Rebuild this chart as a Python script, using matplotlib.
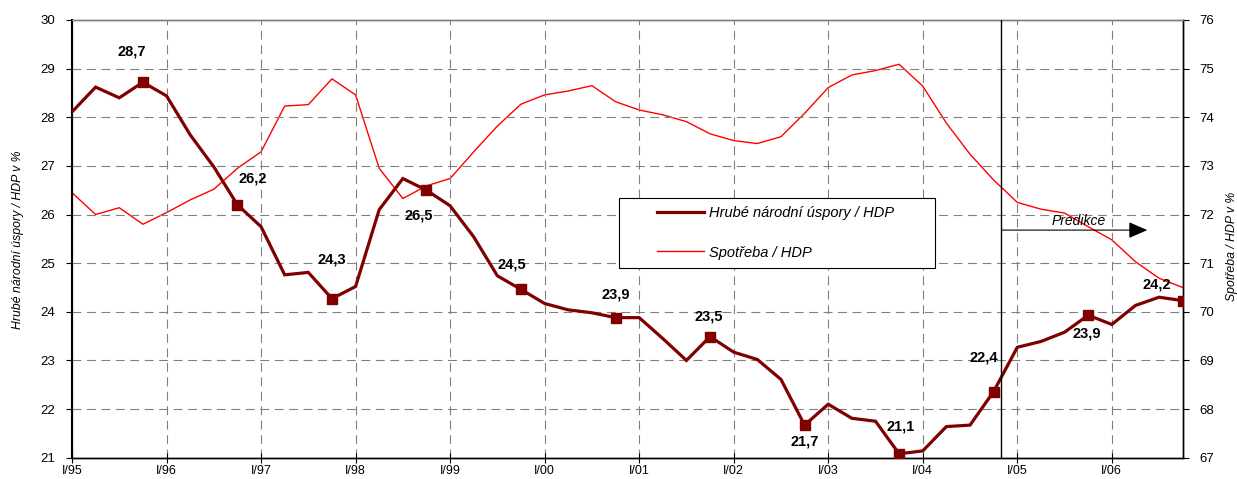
import matplotlib
matplotlib.use("Agg")
import matplotlib.pyplot as plt
from matplotlib.patches import Rectangle
from matplotlib.lines import Line2D
import numpy as np

plt.rcParams['font.family'] = ['Liberation Sans', 'DejaVu Sans']

# ---- data ----
years = ["95", "96", "97", "98", "99", "00", "01", "02", "03", "04", "05", "06"]
tick_labels = ["I/" + y for y in years]

savings = [28.11, 28.62, 28.40, 28.72, 28.44, 27.64, 26.98, 26.20,
           25.75, 24.76, 24.81, 24.27, 24.52, 26.10, 26.74, 26.50,
           26.18, 25.54, 24.74, 24.46, 24.17, 24.04, 23.98, 23.88,
           23.88, 23.45, 23.00, 23.49, 23.17, 23.02, 22.61, 21.67,
           22.10, 21.81, 21.75, 21.08, 21.14, 21.64, 21.67, 22.36,
           23.27, 23.39, 23.58, 23.93, 23.74, 24.13, 24.30, 24.23]

consumption = [72.45, 72.00, 72.14, 71.80, 72.04, 72.30, 72.52, 72.95,
               73.29, 74.23, 74.26, 74.79, 74.46, 72.95, 72.33, 72.59,
               72.74, 73.29, 73.82, 74.27, 74.46, 74.54, 74.65, 74.32,
               74.15, 74.05, 73.91, 73.66, 73.52, 73.46, 73.60, 74.08,
               74.61, 74.87, 74.96, 75.09, 74.64, 73.88, 73.24, 72.71,
               72.25, 72.11, 72.03, 71.75, 71.48, 71.03, 70.69, 70.50]

series_names = ["Hrubé národní úspory / HDP", "Spotřeba / HDP"]
ylabel_left = "Hrubé národní úspory / HDP v %"
ylabel_right = "Spotřeba / HDP v %"
forecast_label = "Predikce"
forecast_start = 39.33   # quarter index where prediction begins

# label offsets (points) for the marked Q4 values
label_offsets = [(-7.7, 22), (11, 19), (0, 28), (-5.4, -18), (-6.7, 18.2), (0, 16.3),
                 (-1.2, 14.4), (0, -11.5), (1.4, 20), (-7.2, 24.5), (-1.2, -13.2), (-18.5, 11.3)]

# ---- figure ----
W, H = 1237, 479
fig = plt.figure(figsize=(W / 100, H / 100), dpi=100)
L, R, T, B = 72, 1182.7, 20, 457.7
ax = fig.add_axes([L / W, 1 - B / H, (R - L) / W, (B - T) / H])
ax2 = ax.twinx()
ax.set_zorder(ax2.get_zorder() + 1)
ax.patch.set_visible(False)

x = np.arange(len(savings))
dark = "#800000"
grid_c = "#808080"

ax2.plot(x, consumption, color="#ff0000", lw=1.0, zorder=3)
ax.plot(x, savings, color=dark, lw=2.3, zorder=4, solid_joinstyle='miter')
q4 = x[3::4]
q4v = [savings[i] for i in q4]
ax.plot(q4, q4v, 's', color=dark, ms=7, zorder=5, ls='none')

for xi, v, off in zip(q4, q4v, label_offsets):
    ax.annotate(f"{v:.1f}".replace('.', ','), (xi, v), xytext=off,
                textcoords='offset points', ha='center', va='center',
                fontsize=10.5, fontweight='bold', color='black', zorder=6)

ax.set_xlim(0, len(savings) - 1)
ax.set_ylim(21, 30)
ax2.set_ylim(67, 76)
ax.set_xticks(np.arange(0, len(savings), 4))
ax.set_xticklabels(tick_labels)
ax.set_yticks(np.arange(21, 31))
ax2.set_yticks(np.arange(67, 77))

ax.grid(True, color=grid_c, lw=0.8, ls=(0, (8, 5)))
ax.set_axisbelow(True)

ax.tick_params(axis='y', direction='out', length=4, width=0.8, pad=8, labelsize=9.5, colors='black')
ax.tick_params(axis='x', direction='inout', length=7, width=0.8, pad=1.5, labelsize=9)
ax2.tick_params(axis='y', direction='out', length=4, width=0.8, pad=8, labelsize=9.5)

for a in (ax, ax2):
    a.spines['top'].set_color(grid_c)
    a.spines['top'].set_linewidth(1.0)
    a.spines['bottom'].set_linewidth(1.0)
    a.spines['right'].set_linewidth(1.0)
ax.spines['left'].set_linewidth(1.5)

fig.text(18.3 / W, 1 - 240 / H, ylabel_left, rotation=90, ha='center', va='center',
         fontsize=8.8, style='italic')
fig.text(1231.7 / W, 1 - 246.7 / H, ylabel_right, rotation=90, ha='center', va='center',
         fontsize=8.8, style='italic')

# forecast marker
ax.axvline(forecast_start, color='black', lw=1.0, zorder=5)
ax.annotate('', xy=(45.5, 25.68), xytext=(forecast_start, 25.68),
            arrowprops=dict(arrowstyle='-|>,head_length=1.15,head_width=0.5',
                            color='black', lw=0.8, shrinkA=0, shrinkB=0,
                            mutation_scale=10), zorder=5)
ax.text(42.6, 25.87, forecast_label, ha='center', va='center', fontsize=10,
        style='italic', zorder=6)

# legend box
bx0 = (619.3 - L) / (R - L)
by0 = (B - 267.7) / (B - T)
bw = (935 - 619.3) / (R - L)
bh = (267.7 - 198.3) / (B - T)
ax.add_patch(Rectangle((bx0, by0), bw, bh, transform=ax.transAxes, facecolor='white',
                       edgecolor='black', lw=0.8, zorder=7))
handles = [Line2D([], [], color=dark, lw=2.3), Line2D([], [], color='#ff0000', lw=1.0)]
leg = ax.legend(handles, series_names, loc='upper left',
                bbox_to_anchor=((657.3 - L) / (R - L), (B - 206.0) / (B - T)),
                frameon=False, borderpad=0, borderaxespad=0, handlelength=3.2,
                handletextpad=0.35, labelspacing=1.75,
                prop=dict(family=['Liberation Sans', 'DejaVu Sans'], style='italic', size=10.5))
leg.set_zorder(8)

fig.savefig("out.png", dpi=100)
